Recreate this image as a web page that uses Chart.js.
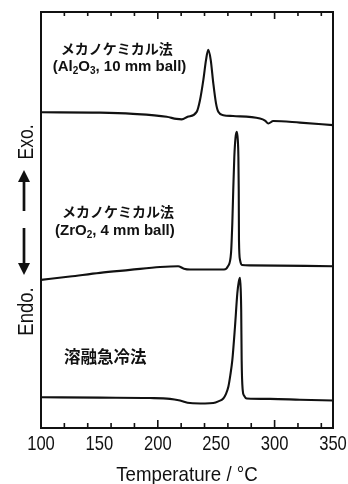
<!DOCTYPE html>
<html>
<head>
<meta charset="utf-8">
<script src="https://cdn.jsdelivr.net/npm/chart.js@4/dist/chart.umd.min.js"></script>
<style>
  html, body { margin: 0; padding: 0; background: #fff; }
  #wrap { width: 348px; height: 484px; }
</style>
</head>
<body>
<div id="wrap"><canvas id="c" width="348" height="484"></canvas></div>
<script>
// DSC curves: temperature (°C) against heat flow (arbitrary units, curves offset vertically)
const tempAl2O3 = [100, 150.5, 178.8, 207.6, 216.0, 220.5, 225.5, 233.3, 236.1, 239.0, 241.3, 243.2, 245.3, 247.5, 249.8, 251.8, 256.1, 264.4, 287.5, 291.8, 294.6, 298.9, 321.7, 350];
const flowAl2O3 = [75.9, 75.8, 75.5, 74.8, 74.3, 74.2, 74.8, 76.0, 78.8, 83.7, 88.5, 90.9, 88.5, 82.9, 78.1, 76.0, 75.2, 75.0, 74.4, 73.9, 73.2, 73.8, 73.4, 72.8];

const tempZrO2 = [100, 124.8, 150.5, 176.2, 201.9, 217.3, 222.4, 227.6, 256.7, 260.1, 262.7, 263.8, 264.6, 265.5, 266.5, 267.6, 268.5, 269.0, 269.3, 269.5, 270.4, 272.1, 278.9, 350];
const flowZrO2 = [35.6, 36.4, 37.3, 38.0, 38.7, 38.9, 38.3, 38.1, 38.1, 38.9, 42.1, 49.3, 57.2, 65.1, 69.7, 71.2, 69.2, 65.1, 57.2, 45.2, 40.4, 39.2, 39.1, 38.9];

const tempQuench = [100, 150.5, 193.3, 210.4, 219.0, 227.6, 240.4, 247.5, 251.8, 256.1, 258.4, 260.4, 262.1, 263.8, 266.1, 268.1, 269.3, 270.4, 271.0, 271.4, 271.8, 272.7, 273.8, 276.1, 296.1, 321.7, 350];
const flowQuench = [7.4, 7.3, 7.2, 7.0, 6.6, 6.0, 5.9, 6.0, 6.4, 7.1, 8.2, 9.9, 12.7, 16.3, 24.4, 32.4, 35.1, 36.1, 33.2, 28.4, 16.3, 9.1, 7.8, 7.1, 7.0, 6.8, 6.6];

const majorTicks = [100, 150, 200, 250, 300, 350];
const xTitle = 'Temperature / °C';
const yLabelTop = 'Exo.';
const yLabelBottom = 'Endo.';

// curve captions: each is a list of [text, subscript?] runs
const captions = [
  { at: [117, 91.3], font: 'bold 14px "Noto Sans CJK JP"', runs: [['メカノケミカル法', false]] },
  { at: [110, 86.8], font: 'bold 15px "Liberation Sans", Arial, sans-serif',
    runs: [['(Al', false], ['2', true], ['O', false], ['3', true], [', 10 mm ball)', false]] },
  { at: [118, 52.0], font: 'bold 14px "Noto Sans CJK JP"', runs: [['メカノケミカル法', false]] },
  { at: [112, 47.4], font: 'bold 15px "Liberation Sans", Arial, sans-serif',
    runs: [['(ZrO', false], ['2', true], [', 4 mm ball)', false]] },
  { at: [119.7, 17.1], font: 'bold 16.5px "Noto Sans CJK JP"', runs: [['溶融急冷法', false]] }
];

const SANS = '"Liberation Sans", Arial, Helvetica, sans-serif';

function pairs(xs, ys) { return xs.map((x, i) => ({ x: x, y: ys[i] })); }

function curve(xs, ys) {
  return {
    data: pairs(xs, ys),
    borderColor: '#111',
    borderWidth: 2.1,
    pointRadius: 0,
    fill: false,
    cubicInterpolationMode: 'monotone'
  };
}

// narrow-looking text: regular sans squeezed horizontally
function narrowText(ctx, text, x, y, size, squeeze, align) {
  ctx.save();
  ctx.translate(x, y);
  ctx.scale(squeeze, 1);
  ctx.font = size + 'px ' + SANS;
  ctx.textAlign = align;
  ctx.textBaseline = 'alphabetic';
  ctx.fillText(text, 0, 0);
  ctx.restore();
}

// box around the plot, inward ticks on top and bottom, tick labels and axis title
const frameAxis = {
  id: 'frameAxis',
  afterDraw(chart) {
    const { ctx, chartArea: a, scales } = chart;
    const xs = scales.x;
    ctx.save();
    ctx.strokeStyle = '#111';
    ctx.fillStyle = '#111';
    ctx.lineWidth = 1.6;
    ctx.beginPath();
    xs.ticks.forEach(t => {
      const px = xs.getPixelForValue(t.value);
      const len = majorTicks.includes(t.value) ? 8 : 5;
      ctx.moveTo(px, a.bottom); ctx.lineTo(px, a.bottom - len);
      ctx.moveTo(px, a.top); ctx.lineTo(px, a.top + len - 1);
    });
    ctx.stroke();
    ctx.lineWidth = 2;
    ctx.strokeRect(a.left, a.top, a.right - a.left, a.bottom - a.top);

    majorTicks.forEach(v => {
      narrowText(ctx, String(v), xs.getPixelForValue(v), a.bottom + 22, 21, 0.79, 'center');
    });
    narrowText(ctx, xTitle, (a.left + a.right) / 2, a.bottom + 53, 21, 0.89, 'center');
    ctx.restore();
  }
};

// captions next to each curve, with subscripts
const curveCaptions = {
  id: 'curveCaptions',
  afterDatasetsDraw(chart) {
    const { ctx, scales } = chart;
    ctx.save();
    ctx.fillStyle = '#111';
    ctx.textBaseline = 'middle';
    ctx.textAlign = 'left';
    captions.forEach(c => {
      let x = scales.x.getPixelForValue(c.at[0]);
      const y = scales.y.getPixelForValue(c.at[1]);
      c.runs.forEach(([txt, sub]) => {
        if (sub) {
          ctx.font = c.font.replace(/[\d.]+px/, '10px');
          ctx.fillText(txt, x, y + 4);
        } else {
          ctx.font = c.font;
          ctx.fillText(txt, x, y);
        }
        x += ctx.measureText(txt).width;
      });
    });
    ctx.restore();
  }
};

// vertical "Endo. ↓  ↑ Exo." label on the left
const sideLabel = {
  id: 'sideLabel',
  afterDraw(chart) {
    const { ctx, chartArea: a } = chart;
    const base = a.left - 8;
    const cy = (a.top + a.bottom) / 2 + 10;
    ctx.save();
    ctx.fillStyle = '#111';
    ctx.translate(base, cy);
    ctx.rotate(-Math.PI / 2);
    narrowText(ctx, yLabelTop, 88, 0, 22, 0.8, 'center');
    narrowText(ctx, yLabelBottom, -81.5, 0, 22, 0.84, 'center');
    ctx.restore();

    const cx = a.left - 17;
    ctx.save();
    ctx.fillStyle = '#111';
    ctx.strokeStyle = '#111';
    ctx.lineWidth = 2.7;
    const arrow = (y0, y1) => {
      const dir = Math.sign(y1 - y0);
      ctx.beginPath();
      ctx.moveTo(cx, y0);
      ctx.lineTo(cx, y1 - dir * 8);
      ctx.stroke();
      ctx.beginPath();
      ctx.moveTo(cx, y1);
      ctx.lineTo(cx - 6, y1 - dir * 12);
      ctx.lineTo(cx + 6, y1 - dir * 12);
      ctx.closePath();
      ctx.fill();
    };
    arrow(cy - 19, cy - 60);
    arrow(cy - 2, cy + 45);
    ctx.restore();
  }
};

new Chart(document.getElementById('c'), {
  type: 'line',
  data: {
    datasets: [
      curve(tempAl2O3, flowAl2O3),
      curve(tempZrO2, flowZrO2),
      curve(tempQuench, flowQuench)
    ]
  },
  options: {
    responsive: false,
    devicePixelRatio: 1,
    animation: false,
    layout: { padding: { left: 41, right: 15, top: 12, bottom: 56 } },
    plugins: { legend: { display: false }, tooltip: { enabled: false } },
    scales: {
      x: {
        type: 'linear',
        display: false,
        min: 100,
        max: 350,
        ticks: { stepSize: 10 }
      },
      y: { display: false, min: 0, max: 100 }
    }
  },
  plugins: [frameAxis, curveCaptions, sideLabel]
});
</script>
</body>
</html>
